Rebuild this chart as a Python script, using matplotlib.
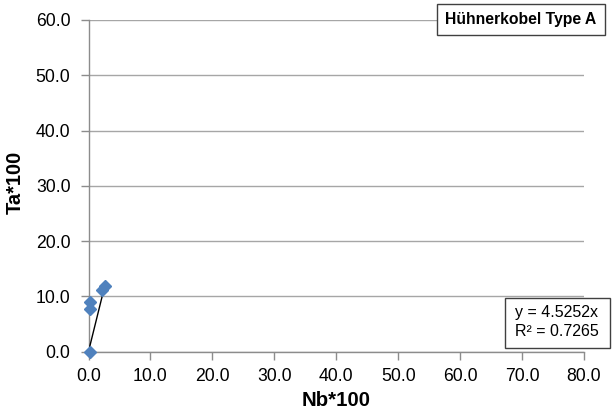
import numpy as np
import matplotlib
matplotlib.use("Agg")
import matplotlib.pyplot as plt
from matplotlib.patches import Rectangle

plt.rcParams['font.family'] = ['Liberation Sans', 'DejaVu Sans']

# Measured samples
nb = [0.2, 0.3, 0.3, 2.2, 2.6]
ta = [0.0, 9.0, 7.7, 11.1, 11.8]

# Linear trend forced through the origin
slope = 4.5252
r_squared = 0.7265

title = "Hühnerkobel Type A"
x_label = "Nb*100"
y_label = "Ta*100"
x_ticks = [0, 10, 20, 30, 40, 50, 60, 70, 80]
y_ticks = [0, 10, 20, 30, 40, 50, 60]

W, H = 612, 416
fig = plt.figure(figsize=(W / 100, H / 100), dpi=100)
ax = fig.add_axes([88.5 / W, 1 - 351.5 / H, (584 - 88.5) / W, (351.5 - 20) / H])

grey = '#8c8c8c'
ax.set_xlim(0, 80)
ax.set_ylim(0, 60)
ax.set_xticks(x_ticks)
ax.set_yticks(y_ticks)
ax.set_xticklabels([f"{v:.1f}" for v in x_ticks])
ax.set_yticklabels([f"{v:.1f}" for v in y_ticks])
ax.tick_params(axis='both', direction='out', length=6, width=1, color=grey,
               labelsize=12.7, labelcolor='black')
ax.tick_params(axis='x', pad=6)
ax.tick_params(axis='y', pad=7)

for side in ('top', 'right'):
    ax.spines[side].set_visible(False)
for side in ('left', 'bottom'):
    ax.spines[side].set_color(grey)
    ax.spines[side].set_linewidth(1)

ax.yaxis.grid(True, color='#a6a6a6', linewidth=1)
ax.set_axisbelow(True)

# trendline across the data range
xs = np.array([min(nb), max(nb)])
ax.plot(xs, slope * xs, color='black', linewidth=1, zorder=3)
ax.plot(nb, ta, linestyle='none', marker='D', markersize=6,
        color='#4F81BD', markeredgecolor='#4F81BD', zorder=4, clip_on=False)

ax.set_xlabel(x_label, fontsize=14.7, fontweight='bold')
ax.set_ylabel(y_label, fontsize=14.5, fontweight='bold')
ax.xaxis.set_label_coords((336 - 88.5) / (584 - 88.5), (351.5 - 401) / 331.5)
ax.xaxis.label.set_va('center')
ax.yaxis.set_label_coords((15 - 88.5) / (584 - 88.5), (351.5 - 182) / 331.5)
ax.yaxis.label.set_va('center')


def px_box(x0, y0, x1, y1):
    fig.patches.append(Rectangle((x0 / W, 1 - y1 / H), (x1 - x0) / W, (y1 - y0) / H,
                                 transform=fig.transFigure, facecolor='white',
                                 edgecolor='#404040', linewidth=1, zorder=5))


# title box
px_box(437, 4, 605, 35)
fig.text(521 / W, 1 - 19.5 / H, title, ha='center', va='center',
         fontsize=11.3, fontweight='bold', zorder=6)

# trendline equation box
px_box(505, 298, 610, 348)
fig.text(515 / W, 1 - 312 / H, f"y = {slope:.4f}x", ha='left', va='center',
         fontsize=11.5, zorder=6)
fig.text(515 / W, 1 - 332 / H, f"R² = {r_squared:.4f}", ha='left', va='center',
         fontsize=11.5, zorder=6)

fig.savefig("out.png", dpi=100)
